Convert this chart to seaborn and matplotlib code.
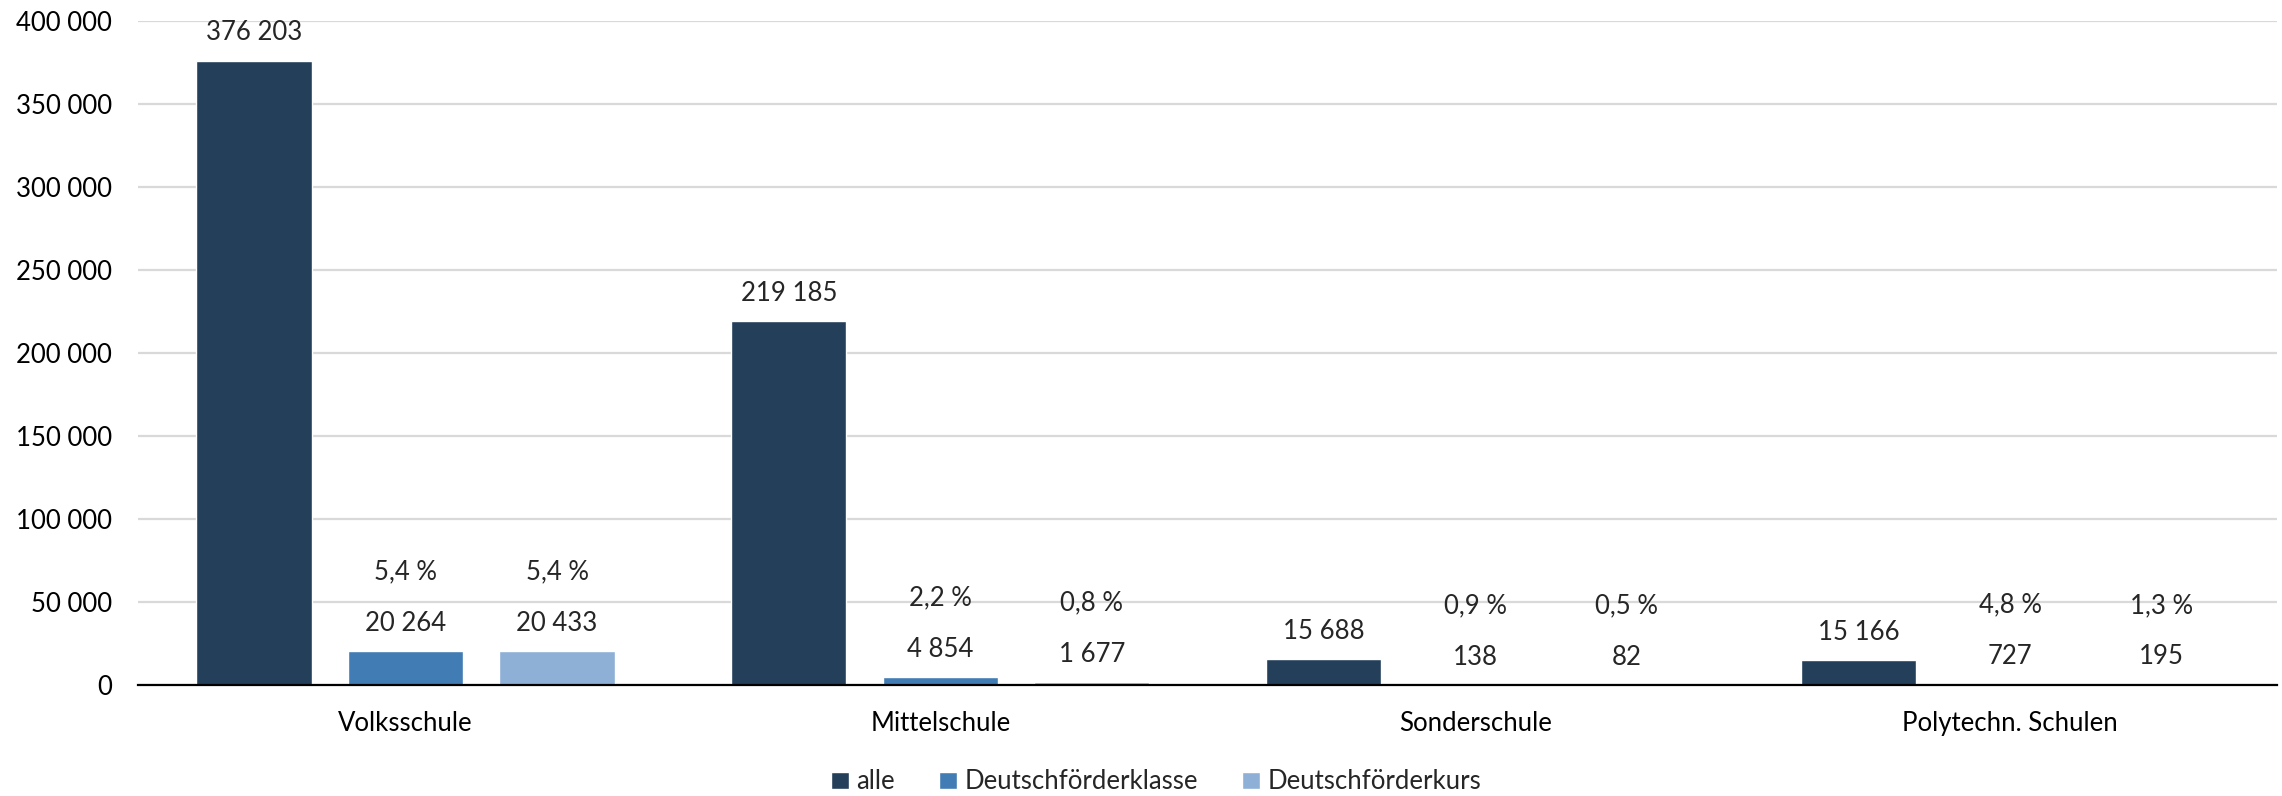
import matplotlib.pyplot as plt
import pandas as pd
import seaborn as sns

# Schülerzahlen nach Schulart
schularten = ["Volksschule", "Mittelschule", "Sonderschule", "Polytechn. Schulen"]
gruppen = ["alle", "Deutschförderklasse", "Deutschförderkurs"]
alle = [376203, 219185, 15688, 15166]
dfk = [20264, 4854, 138, 727]
dfkurs = [20433, 1677, 82, 195]
anteil_dfk = [5.4, 2.2, 0.9, 4.8]
anteil_dfkurs = [5.4, 0.8, 0.5, 1.3]
y_ticks = [0, 50000, 100000, 150000, 200000, 250000, 300000, 350000, 400000]

farben = ["#233F5A", "#427CB4", "#8EB0D6"]
fs = 18.5


def fmt_zahl(v):
    return f"{v:,}".replace(",", " ")


def fmt_prozent(p):
    return f"{p:.1f}".replace(".", ",") + " %"


rows = []
for i, s in enumerate(schularten):
    for g, werte in zip(gruppen, [alle, dfk, dfkurs]):
        rows.append({"schulart": s, "gruppe": g, "anzahl": werte[i]})
df = pd.DataFrame(rows)

sns.set_style("white")
plt.rcParams["font.family"] = ["Lato", "DejaVu Sans"]
plt.rcParams["font.size"] = fs

fig = plt.figure(figsize=(22.82, 7.96), dpi=100)
ax = fig.add_axes([0.0605, 0.1394, 0.9375, 0.8342])

sns.barplot(
    data=df, x="schulart", y="anzahl", hue="gruppe",
    order=schularten, hue_order=gruppen, palette=farben,
    width=0.85, gap=0.24, saturation=1, ax=ax, legend=True,
)

ax.set_ylim(0, 400000)
ax.set_yticks(y_ticks)
ax.set_yticklabels([fmt_zahl(t) for t in y_ticks])
ax.set_xlabel("")
ax.set_ylabel("")
ax.yaxis.grid(True, color="#D9D9D9", linewidth=1.6)
ax.set_axisbelow(True)
for sp in ["top", "right", "left"]:
    ax.spines[sp].set_visible(False)
ax.spines["bottom"].set_color("black")
ax.spines["bottom"].set_linewidth(1.6)
ax.spines["bottom"].set_zorder(5)
ax.tick_params(axis="both", length=0, labelsize=fs, colors="black")
ax.tick_params(axis="y", pad=19)
ax.tick_params(axis="x", pad=19)

# Wertbeschriftungen und Anteile
anteile = [None, anteil_dfk, anteil_dfkurs]
for k, cont in enumerate(ax.containers):
    for i, bar in enumerate(cont):
        x = bar.get_x() + bar.get_width() / 2
        h = bar.get_height()
        ax.annotate(fmt_zahl(int(h)), (x, h), xytext=(0, 20),
                    textcoords="offset points", ha="center", va="center",
                    fontsize=fs, clip_on=False)
        if anteile[k] is not None:
            ax.annotate(fmt_prozent(anteile[k][i]), (x, h), xytext=(0, 57),
                        textcoords="offset points", ha="center", va="center",
                        fontsize=fs, clip_on=False)

handles, labels = ax.get_legend_handles_labels()
ax.get_legend().remove()
fig.legend(handles, labels, loc="center", bbox_to_anchor=(0.5066, 0.0176),
           ncol=3, frameon=False, fontsize=fs, handlelength=0.7,
           handleheight=0.7, handletextpad=0.3, columnspacing=1.7)

fig.savefig("out.png", dpi=100)
